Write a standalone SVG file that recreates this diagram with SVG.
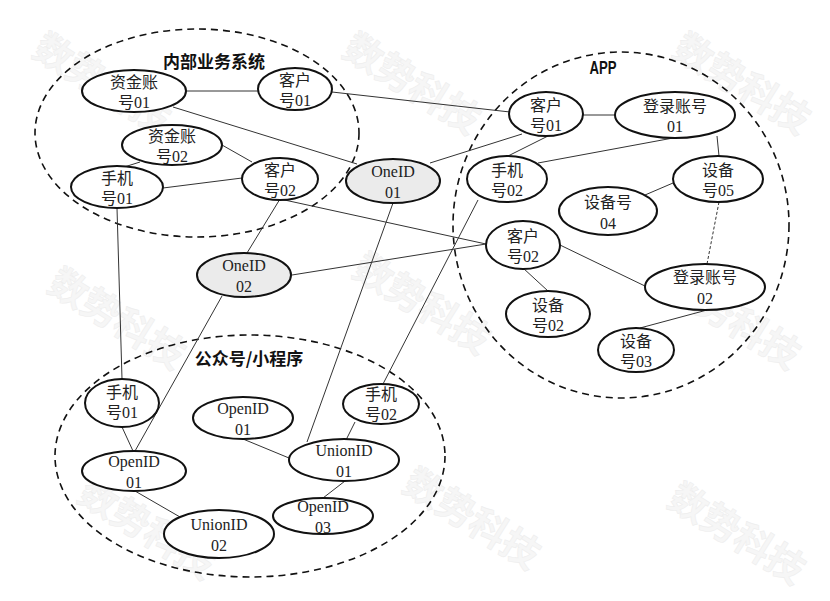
<svg xmlns="http://www.w3.org/2000/svg" width="830" height="601" viewBox="0 0 830 601">
<defs>
<style>
.wm{font-family:"Noto Sans CJK SC",sans-serif;font-size:38px;font-weight:bold;fill:#f6f6f6;stroke:#eeeeee;stroke-width:0.6;text-anchor:middle}
.cluster{fill:none;stroke:#111;stroke-width:1.6;stroke-dasharray:7 5}
.edge{stroke:#333;stroke-width:1;fill:none}
.dot{stroke:#333;stroke-width:1;fill:none;stroke-dasharray:3 2}
.node{fill:#fff;stroke:#111;stroke-width:2}
.oneid{fill:#ebebeb;stroke:#111;stroke-width:2}
.lbl{font-family:"Liberation Serif","Noto Sans CJK SC",serif;font-size:16px;fill:#222;text-anchor:middle}
.title{font-family:"Noto Sans CJK SC",sans-serif;font-size:17px;font-weight:bold;fill:#111;text-anchor:middle}
.app{font-family:"Liberation Sans Narrow","Liberation Sans",sans-serif;font-size:18px;font-weight:bold;fill:#111;text-anchor:middle}
</style>
</defs>
<rect width="830" height="601" fill="#fff"/>
<g id="watermarks">
<text class="wm" transform="translate(95,95) rotate(32)">数势科技</text>
<text class="wm" transform="translate(405,95) rotate(32)">数势科技</text>
<text class="wm" transform="translate(735,95) rotate(32)">数势科技</text>
<text class="wm" transform="translate(110,330) rotate(32)">数势科技</text>
<text class="wm" transform="translate(415,315) rotate(32)">数势科技</text>
<text class="wm" transform="translate(725,330) rotate(32)">数势科技</text>
<text class="wm" transform="translate(140,540) rotate(32)">数势科技</text>
<text class="wm" transform="translate(465,530) rotate(32)">数势科技</text>
<text class="wm" transform="translate(730,545) rotate(32)">数势科技</text>
</g>
<g id="clusters">
<ellipse class="cluster" cx="197" cy="133" rx="162" ry="104"/>
<ellipse class="cluster" cx="621" cy="225" rx="168" ry="173"/>
<ellipse class="cluster" cx="250" cy="456" rx="195" ry="121"/>
</g>
<g id="connectors">
<line class="edge" x1="186" y1="91" x2="258" y2="91"/>
<line class="edge" x1="332" y1="92" x2="510" y2="112"/>
<line class="edge" x1="173" y1="107" x2="357" y2="164"/>
<line class="edge" x1="222" y1="145" x2="252" y2="162"/>
<line class="edge" x1="140" y1="162" x2="118" y2="169"/>
<line class="edge" x1="163" y1="188" x2="242" y2="178"/>
<line class="edge" x1="280" y1="199" x2="486" y2="244"/>
<line class="edge" x1="280" y1="199" x2="247" y2="253"/>
<line class="edge" x1="292" y1="275" x2="486" y2="244"/>
<line class="edge" x1="430" y1="163" x2="522" y2="134"/>
<line class="edge" x1="393" y1="203" x2="307" y2="442"/>
<line class="edge" x1="548" y1="136" x2="508" y2="156"/>
<line class="edge" x1="673" y1="138" x2="538" y2="163"/>
<line class="edge" x1="583" y1="115" x2="615" y2="115"/>
<line class="edge" x1="717" y1="136" x2="719" y2="156"/>
<line class="edge" x1="645" y1="195" x2="673" y2="183"/>
<line class="dot" x1="719" y1="202" x2="707" y2="264"/>
<line class="edge" x1="478" y1="200" x2="383" y2="384"/>
<line class="edge" x1="560" y1="245" x2="647" y2="287"/>
<line class="edge" x1="523" y1="268" x2="548" y2="291"/>
<line class="edge" x1="707" y1="310" x2="640" y2="328"/>
<line class="edge" x1="117" y1="208" x2="122" y2="379"/>
<line class="edge" x1="222" y1="296" x2="135" y2="451"/>
<line class="edge" x1="122" y1="427" x2="133" y2="451"/>
<line class="edge" x1="135" y1="491" x2="180" y2="517"/>
<line class="edge" x1="243" y1="439" x2="289" y2="458"/>
<line class="edge" x1="355" y1="422" x2="346" y2="440"/>
<line class="edge" x1="345" y1="481" x2="323" y2="498"/>
</g>
<g id="n_zjzh01"><ellipse class="node" cx="134" cy="91" rx="52" ry="21"/><text class="lbl" x="134" y="88">资金账</text><text class="lbl" x="134" y="108">号01</text></g>
<g id="n_kh01_int"><ellipse class="node" cx="295" cy="89" rx="37" ry="21"/><text class="lbl" x="295" y="86">客户</text><text class="lbl" x="295" y="106">号01</text></g>
<g id="n_zjzh02"><ellipse class="node" cx="172" cy="145" rx="50" ry="20"/><text class="lbl" x="172" y="142">资金账</text><text class="lbl" x="172" y="162">号02</text></g>
<g id="n_sj01_int"><ellipse class="node" cx="117" cy="187" rx="46" ry="21"/><text class="lbl" x="117" y="184">手机</text><text class="lbl" x="117" y="204">号01</text></g>
<g id="n_kh02_int"><ellipse class="node" cx="280" cy="179" rx="38" ry="21"/><text class="lbl" x="280" y="176">客户</text><text class="lbl" x="280" y="196">号02</text></g>
<g id="n_oneid01"><ellipse class="oneid" cx="393" cy="181" rx="47" ry="22"/><text class="lbl" x="393" y="177">OneID</text><text class="lbl" x="393" y="198">01</text></g>
<g id="n_oneid02"><ellipse class="oneid" cx="244" cy="275" rx="47" ry="22"/><text class="lbl" x="244" y="271">OneID</text><text class="lbl" x="244" y="292">02</text></g>
<g id="n_kh01_app"><ellipse class="node" cx="546" cy="114" rx="37" ry="22"/><text class="lbl" x="546" y="111">客户</text><text class="lbl" x="546" y="131">号01</text></g>
<g id="n_dlzh01"><ellipse class="node" cx="675" cy="115" rx="60" ry="23"/><text class="lbl" x="675" y="112">登录账号</text><text class="lbl" x="675" y="132">01</text></g>
<g id="n_sj02_app"><ellipse class="node" cx="507" cy="179" rx="40" ry="23"/><text class="lbl" x="507" y="176">手机</text><text class="lbl" x="507" y="196">号02</text></g>
<g id="n_sb05"><ellipse class="node" cx="718" cy="179" rx="45" ry="23"/><text class="lbl" x="718" y="176">设备</text><text class="lbl" x="718" y="196">号05</text></g>
<g id="n_sb04"><ellipse class="node" cx="608" cy="211" rx="49" ry="24"/><text class="lbl" x="608" y="208">设备号</text><text class="lbl" x="608" y="229">04</text></g>
<g id="n_kh02_app"><ellipse class="node" cx="523" cy="245" rx="37" ry="24"/><text class="lbl" x="523" y="242">客户</text><text class="lbl" x="523" y="262">号02</text></g>
<g id="n_dlzh02"><ellipse class="node" cx="705" cy="287" rx="60" ry="23"/><text class="lbl" x="705" y="283">登录账号</text><text class="lbl" x="705" y="304">02</text></g>
<g id="n_sb02"><ellipse class="node" cx="548" cy="314" rx="42" ry="23"/><text class="lbl" x="548" y="311">设备</text><text class="lbl" x="548" y="331">号02</text></g>
<g id="n_sb03"><ellipse class="node" cx="636" cy="350" rx="38" ry="22"/><text class="lbl" x="636" y="347">设备</text><text class="lbl" x="636" y="367">号03</text></g>
<g id="n_sj01_mp"><ellipse class="node" cx="122" cy="403" rx="37" ry="24"/><text class="lbl" x="122" y="398">手机</text><text class="lbl" x="122" y="418">号01</text></g>
<g id="n_openid01_a"><ellipse class="node" cx="243" cy="418" rx="50" ry="21"/><text class="lbl" x="243" y="414">OpenID</text><text class="lbl" x="243" y="435">01</text></g>
<g id="n_sj02_mp"><ellipse class="node" cx="381" cy="404" rx="38" ry="20"/><text class="lbl" x="381" y="400">手机</text><text class="lbl" x="381" y="420">号02</text></g>
<g id="n_unionid01"><ellipse class="node" cx="344" cy="460" rx="55" ry="21"/><text class="lbl" x="344" y="456">UnionID</text><text class="lbl" x="344" y="477">01</text></g>
<g id="n_openid01_b"><ellipse class="node" cx="134" cy="471" rx="52" ry="20"/><text class="lbl" x="134" y="467">OpenID</text><text class="lbl" x="134" y="488">01</text></g>
<g id="n_unionid02"><ellipse class="node" cx="219" cy="534" rx="55" ry="24"/><text class="lbl" x="219" y="530">UnionID</text><text class="lbl" x="219" y="551">02</text></g>
<g id="n_openid03"><ellipse class="node" cx="323" cy="516" rx="50" ry="18"/><text class="lbl" x="323" y="512">OpenID</text><text class="lbl" x="323" y="533">03</text></g>
<g id="titles">
<text class="title" x="214" y="68">内部业务系统</text>
<text class="app" x="603" y="74" textLength="27" lengthAdjust="spacingAndGlyphs">APP</text>
<text class="title" x="249" y="365">公众号/小程序</text>
</g>
</svg>
